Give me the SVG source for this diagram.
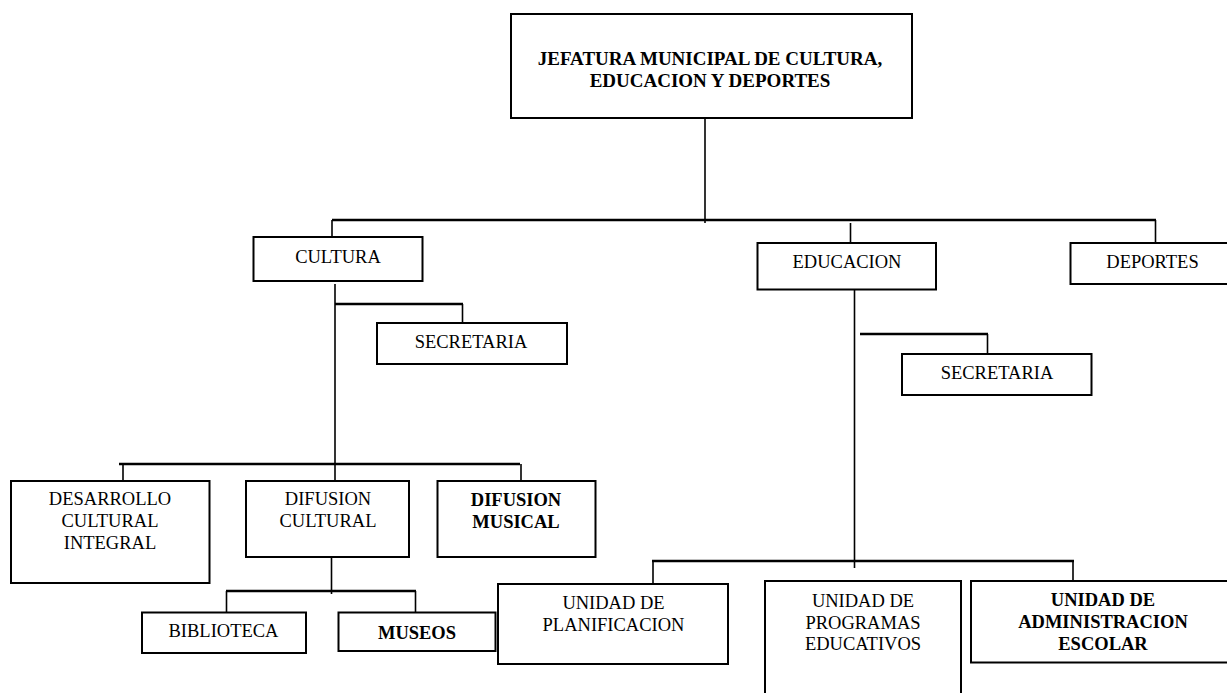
<svg xmlns="http://www.w3.org/2000/svg" width="1227" height="693" viewBox="0 0 1227 693" font-family="'Liberation Serif', 'Times New Roman', 'DejaVu Serif', serif">
<style>
.box{fill:#fff;stroke:#000;stroke-width:2}
.ln{stroke:#000;stroke-width:1.6;fill:none}
.bus{stroke:#000;stroke-width:2.4;fill:none}
text{font-family:'Liberation Serif','Times New Roman','DejaVu Serif',serif;font-size:18.5px;fill:#000;text-anchor:middle}
.b{font-weight:bold}
.t{font-size:19px}
</style>
<rect width="1227" height="693" fill="#fff"/>
<g id="connectors">
<line class="ln" x1="705" y1="118" x2="705" y2="223"/>
<line class="bus" x1="332" y1="220" x2="1156" y2="220"/>
<line class="ln" x1="332" y1="220" x2="332" y2="237"/>
<line class="ln" x1="850.5" y1="223" x2="850.5" y2="243"/>
<line class="ln" x1="1155.5" y1="220" x2="1155.5" y2="243"/>
<line class="ln" x1="335" y1="284" x2="335" y2="481"/>
<line class="bus" x1="335" y1="304" x2="463" y2="304"/>
<line class="ln" x1="462.5" y1="304" x2="462.5" y2="323"/>
<line class="ln" x1="854.5" y1="284" x2="854.5" y2="568"/>
<line class="bus" x1="860" y1="334" x2="988" y2="334"/>
<line class="ln" x1="987.5" y1="334" x2="987.5" y2="354"/>
<line class="bus" x1="119" y1="464" x2="520" y2="464"/>
<line class="ln" x1="123" y1="464" x2="123" y2="481"/>
<line class="ln" x1="521" y1="464" x2="521" y2="481"/>
<line class="ln" x1="331.5" y1="557" x2="331.5" y2="594"/>
<line class="bus" x1="226" y1="591" x2="416" y2="591"/>
<line class="ln" x1="226.5" y1="591" x2="226.5" y2="612"/>
<line class="ln" x1="415.5" y1="591" x2="415.5" y2="612"/>
<line class="bus" x1="652" y1="561" x2="1074" y2="561"/>
<line class="ln" x1="653" y1="561" x2="653" y2="584"/>
<line class="ln" x1="1073" y1="561" x2="1073" y2="581"/>
</g>
<g id="jefatura">
<rect class="box" x="511" y="14" width="401" height="104"/>
<text class="b t" x="710" y="65">JEFATURA MUNICIPAL DE CULTURA,</text>
<text class="b t" x="710" y="87">EDUCACION Y DEPORTES</text>
</g>
<g id="cultura">
<rect class="box" x="253.5" y="237" width="169" height="44"/>
<text x="338" y="263">CULTURA</text>
</g>
<g id="educacion">
<rect class="box" x="757.5" y="243" width="178.5" height="46.5"/>
<text x="847" y="267.5">EDUCACION</text>
</g>
<g id="deportes">
<rect class="box" x="1070.5" y="243" width="170" height="41"/>
<text x="1152.5" y="267.5">DEPORTES</text>
</g>
<g id="secretaria-cultura">
<rect class="box" x="377" y="323" width="190" height="41"/>
<text x="471" y="348">SECRETARIA</text>
</g>
<g id="secretaria-educacion">
<rect class="box" x="902" y="354" width="189.5" height="41"/>
<text x="997" y="379">SECRETARIA</text>
</g>
<g id="desarrollo">
<rect class="box" x="11" y="481" width="198.5" height="102"/>
<text x="110" y="505">DESARROLLO</text>
<text x="110" y="527">CULTURAL</text>
<text x="110" y="549">INTEGRAL</text>
</g>
<g id="difusion-cultural">
<rect class="box" x="246" y="481" width="163" height="76"/>
<text x="328" y="505">DIFUSION</text>
<text x="328" y="527">CULTURAL</text>
</g>
<g id="difusion-musical">
<rect class="box" x="437.5" y="481" width="158" height="76"/>
<text class="b" x="516" y="506">DIFUSION</text>
<text class="b" x="516" y="528">MUSICAL</text>
</g>
<g id="biblioteca">
<rect class="box" x="142" y="612.5" width="164" height="40.5"/>
<text x="223.5" y="637">BIBLIOTECA</text>
</g>
<g id="museos">
<rect class="box" x="338.5" y="612.5" width="157" height="38.5"/>
<text class="b" x="417" y="638.5">MUSEOS</text>
</g>
<g id="planificacion">
<rect class="box" x="498" y="584" width="230" height="80"/>
<text x="613.5" y="609">UNIDAD DE</text>
<text x="613.5" y="631">PLANIFICACION</text>
</g>
<g id="programas">
<rect class="box" x="765" y="581" width="196" height="130"/>
<text x="863" y="606.5">UNIDAD DE</text>
<text x="863" y="628.5">PROGRAMAS</text>
<text x="863" y="650">EDUCATIVOS</text>
</g>
<g id="administracion">
<rect class="box" x="971" y="581" width="270" height="81.5"/>
<text class="b" x="1103" y="605.5">UNIDAD DE</text>
<text class="b" x="1103" y="627.5">ADMINISTRACION</text>
<text class="b" x="1103" y="649.5">ESCOLAR</text>
</g>
</svg>
